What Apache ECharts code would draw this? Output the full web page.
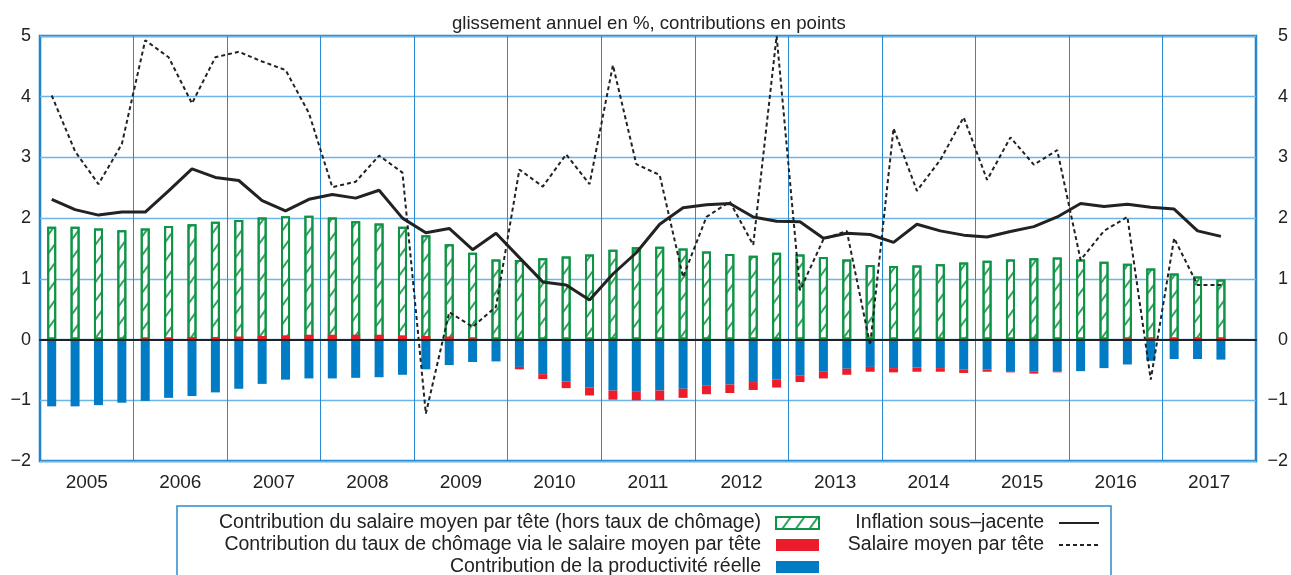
<!DOCTYPE html>
<html>
<head>
<meta charset="utf-8">
<script src="https://cdn.jsdelivr.net/npm/echarts@6/dist/echarts.min.js"></script>
<style>html,body{margin:0;padding:0;background:#fff}#c{width:1291px;height:575px}</style>
</head>
<body>
<div id="c"></div>
<script>
const years = ['2005','2006','2007','2008','2009','2010','2011','2012','2013','2014','2015','2016','2017'];
const quarters = [];
years.forEach(y => { for (let q = 1; q <= 4; q++) quarters.push(y + 'T' + q); });

const yTicks = [-2, -1, 0, 1, 2, 3, 4, 5];

// Contribution du salaire moyen par tête (hors taux de chômage)
const salaireContrib = [
  1.86, 1.86, 1.83, 1.80,
  1.83, 1.87, 1.90, 1.94,
  1.97, 2.01, 2.03, 2.04,
  2.01, 1.95, 1.91, 1.86,
  1.72, 1.57, 1.43, 1.32,
  1.31, 1.34, 1.37, 1.40,
  1.48, 1.52, 1.53, 1.50,
  1.45, 1.41, 1.38, 1.43,
  1.40, 1.36, 1.32, 1.23,
  1.21, 1.22, 1.24, 1.27,
  1.30, 1.32, 1.34, 1.35,
  1.32, 1.28, 1.25, 1.17,
  1.09, 1.04, 0.99
];
// Contribution du taux de chômage via le salaire moyen par tête
const chomageContrib = [
  0.00, 0.00, 0.01, 0.01,
  0.02, 0.03, 0.04, 0.04,
  0.05, 0.06, 0.07, 0.08,
  0.08, 0.08, 0.08, 0.07,
  0.06, 0.05, 0.02, 0.00,
  -0.04, -0.08, -0.11, -0.13,
  -0.15, -0.15, -0.16, -0.15,
  -0.14, -0.14, -0.13, -0.13,
  -0.11, -0.11, -0.10, -0.08,
  -0.07, -0.07, -0.06, -0.06,
  -0.04, -0.02, -0.03, -0.01,
  0.00, 0.01, 0.02, 0.02,
  0.03, 0.03, 0.03
];
// Contribution de la productivité réelle
const productiviteContrib = [
  -1.10, -1.10, -1.08, -1.04,
  -1.01, -0.96, -0.93, -0.87,
  -0.81, -0.73, -0.66, -0.64,
  -0.64, -0.63, -0.62, -0.58,
  -0.49, -0.42, -0.37, -0.36,
  -0.45, -0.57, -0.69, -0.79,
  -0.84, -0.85, -0.84, -0.81,
  -0.76, -0.74, -0.70, -0.66,
  -0.59, -0.53, -0.48, -0.45,
  -0.47, -0.46, -0.47, -0.49,
  -0.49, -0.52, -0.53, -0.53,
  -0.52, -0.47, -0.41, -0.35,
  -0.32, -0.32, -0.33
];
// Inflation sous-jacente
const inflation = [
  2.31, 2.14, 2.05, 2.10,
  2.10, 2.45, 2.81, 2.67,
  2.62, 2.29, 2.12, 2.31,
  2.39, 2.33, 2.46, 2.00,
  1.76, 1.83, 1.48, 1.75,
  1.35, 0.95, 0.90, 0.65,
  1.08, 1.43, 1.90, 2.17,
  2.22, 2.24, 2.02, 1.95,
  1.94, 1.67, 1.75, 1.73,
  1.60, 1.90, 1.79, 1.72,
  1.69, 1.78, 1.86, 2.02,
  2.24, 2.19, 2.23, 2.18,
  2.15, 1.79, 1.70
];
// Salaire moyen par tête
const salaireMoyen = [
  4.02, 3.10, 2.56, 3.22,
  4.93, 4.65, 3.89, 4.65,
  4.74, 4.58, 4.44, 3.73,
  2.51, 2.60, 3.03, 2.75,
  -1.22, 0.45, 0.21, 0.54,
  2.80, 2.52, 3.05, 2.56,
  4.52, 2.89, 2.71, 1.03,
  2.02, 2.27, 1.56, 5.00,
  0.81, 1.65, 1.79, -0.09,
  3.48, 2.45, 2.96, 3.66,
  2.63, 3.33, 2.88, 3.12,
  1.31, 1.79, 2.02, -0.66,
  1.67, 0.90, 0.90
];

const names = {
  green: 'Contribution du salaire moyen par tête (hors taux de chômage)',
  red: 'Contribution du taux de chômage via le salaire moyen par tête',
  blue: 'Contribution de la productivité réelle',
  infl: 'Inflation sous–jacente',
  sal: 'Salaire moyen par tête'
};

const FONT = 'Liberation Sans';
const GREEN = '#0f9447';
const RED = '#ec1c2a';
const BLUE = '#007bc4';
const FRAME = '#1f84cc';
const GRIDC = '#6db5e6';

const fmt = v => String(v).replace('-', '\u2212');
const legendText = {fontSize: 19.5, color: '#222', fontFamily: FONT, lineHeight: 22, padding: [0, 10, 0, 0]};

const chart = echarts.init(document.getElementById('c'), null, {renderer: 'canvas'});
chart.setOption({
  animation: false,
  backgroundColor: '#fff',
  textStyle: {fontFamily: FONT},
  title: {
    text: 'glissement annuel en %, contributions en points',
    left: 447, top: 9,
    textStyle: {fontFamily: FONT, fontSize: 18.6, fontWeight: 'normal', color: '#222'}
  },
  grid: {left: 40, right: 35, top: 36, bottom: 114, show: true, borderColor: FRAME, borderWidth: 2.5, backgroundColor: 'transparent'},
  xAxis: [{
    type: 'category', data: quarters, boundaryGap: true, z: 5,
    axisLine: {onZero: true, lineStyle: {color: '#222', width: 2}},
    axisTick: {show: false}, axisLabel: {show: false},
    splitLine: {show: true, interval: (i) => i > 0 && i % 4 === 0, lineStyle: {color: '#2a8ad0', width: 1}}
  }, {
    type: 'category', data: years, boundaryGap: true, position: 'bottom',
    axisLine: {show: false, onZero: false}, axisTick: {show: false},
    axisLabel: {margin: 12, fontSize: 19, color: '#222', fontFamily: FONT},
    splitLine: {show: false}
  }],
  yAxis: [{
    type: 'value', min: yTicks[0], max: yTicks[yTicks.length - 1], interval: 1,
    axisLine: {show: false}, axisTick: {show: false},
    axisLabel: {margin: 9, fontSize: 18, color: '#222', formatter: fmt, fontFamily: FONT},
    splitLine: {show: true, lineStyle: {color: GRIDC, width: 1.3}}
  }, {
    type: 'value', min: yTicks[0], max: yTicks[yTicks.length - 1], interval: 1, position: 'right',
    axisLine: {show: false}, axisTick: {show: false},
    axisLabel: {margin: 32, align: 'right', fontSize: 18, color: '#222', formatter: fmt, fontFamily: FONT},
    splitLine: {show: false}
  }],
  legend: [{
    orient: 'vertical', align: 'right', right: 466, top: 507, height: 100,
    itemWidth: 43, itemHeight: 12, itemGap: 0,
    textStyle: legendText,
    data: [{name: names.green, icon: 'rect'}, {name: names.red, icon: 'rect'}, {name: names.blue, icon: 'rect'}]
  }, {
    orient: 'vertical', align: 'right', right: 186, top: 507, height: 100,
    itemWidth: 40, itemHeight: 12, itemGap: 0,
    textStyle: legendText,
    data: [
      {name: names.infl, itemStyle: {opacity: 0}},
      {name: names.sal, itemStyle: {opacity: 0}}
    ]
  }],
  graphic: [{
    type: 'rect', silent: true,
    shape: {x: 177, y: 506, width: 934, height: 90},
    style: {fill: 'none', stroke: '#2a8ad0', lineWidth: 1.5}
  }],
  series: [{
    name: names.green, type: 'bar', data: salaireContrib, barWidth: 9, barGap: '-100%',
    itemStyle: {
      color: '#ffffff', borderColor: GREEN, borderWidth: 2,
      decal: {symbol: 'rect', symbolSize: 1, color: '#2ea35a', dashArrayX: [1, 0], dashArrayY: [1.2, 9], rotation: -Math.PI * 0.3}
    }
  }, {
    name: names.blue, type: 'bar', stack: 'neg', data: productiviteContrib, barWidth: 9, barGap: '-100%',
    itemStyle: {color: BLUE}
  }, {
    name: names.red, type: 'bar', stack: 'neg', data: chomageContrib, barWidth: 9, barGap: '-100%',
    itemStyle: {color: RED}
  }, {
    name: names.infl, type: 'line', data: inflation, symbol: 'none', z: 6,
    lineStyle: {color: '#222', width: 3}, itemStyle: {color: '#222'}
  }, {
    name: names.sal, type: 'line', data: salaireMoyen, symbol: 'none', z: 6,
    lineStyle: {color: '#222', width: 2, type: [4, 3]}, itemStyle: {color: '#222'}
  }]
});
</script>
</body>
</html>
